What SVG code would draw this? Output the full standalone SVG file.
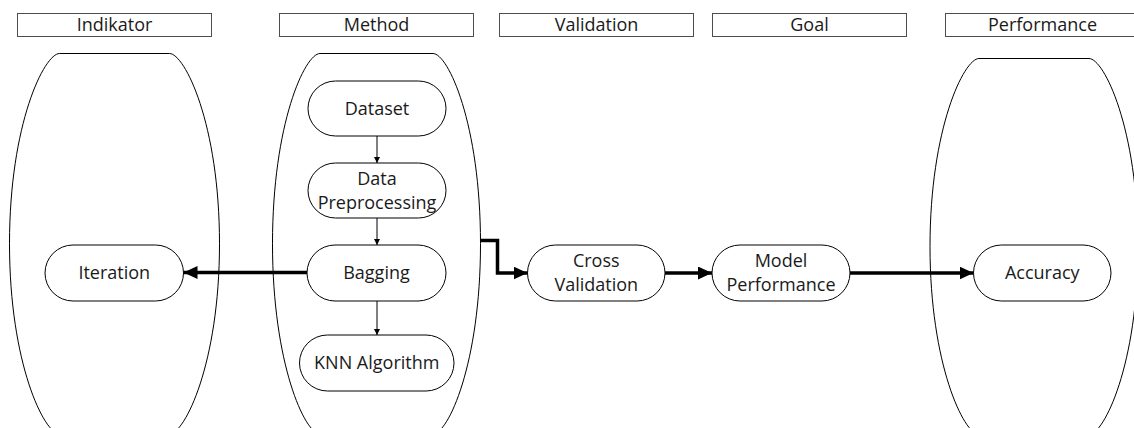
<svg xmlns="http://www.w3.org/2000/svg" width="1134" height="428" viewBox="0 0 1134 428">
<style>
.hdr{fill:#fff;stroke:#4d4d4d;stroke-width:1}
.lane{fill:#fff;stroke:#000;stroke-width:1}
.pill{fill:#fff;stroke:#000;stroke-width:1}
text{font-family:"Open Sans","Noto Sans","DejaVu Sans",sans-serif;font-size:18px;fill:#1a1a1a;text-anchor:middle}
.thin{fill:none;stroke:#000;stroke-width:1}
.thick{fill:none;stroke:#000;stroke-width:3.5}
</style>
<defs>
<marker id="sm" markerUnits="userSpaceOnUse" markerWidth="8" markerHeight="8" refX="6" refY="3" orient="auto">
<path d="M0,0 L6,3 L0,6 Z" fill="#000"/>
</marker>
<marker id="big" markerUnits="userSpaceOnUse" markerWidth="16" markerHeight="14" refX="14" refY="6.5" orient="auto">
<path d="M0,0 L14,6.5 L0,13 Z" fill="#000"/>
</marker>
</defs>
<rect width="1134" height="428" fill="#fff"/>

<g id="header-indikator"><rect class="hdr" x="17.5" y="13.5" width="194" height="23"/><text x="114.5" y="31">Indikator</text></g>
<g id="header-method"><rect class="hdr" x="279.5" y="13.5" width="194" height="23"/><text x="376.5" y="31">Method</text></g>
<g id="header-validation"><rect class="hdr" x="499.5" y="13.5" width="194" height="23"/><text x="596.5" y="31">Validation</text></g>
<g id="header-goal"><rect class="hdr" x="712.5" y="13.5" width="194" height="23"/><text x="809.5" y="31">Goal</text></g>
<g id="header-performance"><rect class="hdr" x="945.5" y="13.5" width="194" height="23"/><text x="1042.5" y="31">Performance</text></g>

<g id="lane-indikator"><path class="lane" d="M169.5,53.5 C184.5,53.5 219.5,123.5 219.5,243.75 C219.5,364 184.5,434 169.5,434 H59.5 C44.5,434 9.5,364 9.5,243.75 C9.5,123.5 44.5,53.5 59.5,53.5 Z"/></g>
<g id="lane-method"><path class="lane" d="M433,53.5 C448,53.5 480.5,123.5 480.5,243.75 C480.5,364 448,434 433,434 H320 C305,434 272.5,364 272.5,243.75 C272.5,123.5 305,53.5 320,53.5 Z"/></g>
<g id="lane-performance"><path class="lane" d="M1089,58.5 C1104,58.5 1138,128.5 1138,246.5 C1138,364.5 1104,434.5 1089,434.5 H979 C964,434.5 930,364.5 930,246.5 C930,128.5 964,58.5 979,58.5 Z"/></g>

<g id="connectors">
<line class="thin" x1="377" y1="136" x2="377" y2="163" marker-end="url(#sm)"/>
<line class="thin" x1="377" y1="218" x2="377" y2="245" marker-end="url(#sm)"/>
<line class="thin" x1="377" y1="301" x2="377" y2="335" marker-end="url(#sm)"/>
<line class="thick" x1="307" y1="272.5" x2="183.5" y2="272.5" marker-end="url(#big)"/>
<polyline class="thick" points="480.5,240.5 497.5,240.5 497.5,273 527.5,273" marker-end="url(#big)"/>
<line class="thick" x1="665" y1="273" x2="712" y2="273" marker-end="url(#big)"/>
<line class="thick" x1="850" y1="273" x2="973.5" y2="273" marker-end="url(#big)"/>
</g>

<g id="node-dataset"><rect class="pill" x="308" y="81" width="138" height="55" rx="27.5"/><text x="377" y="114.5">Dataset</text></g>
<g id="node-preprocessing"><rect class="pill" x="308" y="163" width="138" height="55" rx="27.5"/><text x="377" y="185">Data</text><text x="377" y="208.5">Preprocessing</text></g>
<g id="node-bagging"><rect class="pill" x="307" y="245" width="139" height="56" rx="28"/><text x="376.5" y="279">Bagging</text></g>
<g id="node-knn"><rect class="pill" x="299.5" y="335" width="154.5" height="56" rx="28"/><text x="376.75" y="369">KNN Algorithm</text></g>
<g id="node-iteration"><rect class="pill" x="45" y="245" width="138.5" height="56" rx="28"/><text x="114.25" y="279">Iteration</text></g>
<g id="node-crossvalidation"><rect class="pill" x="527.5" y="245" width="137.5" height="56" rx="28"/><text x="596.25" y="267">Cross</text><text x="596.25" y="291">Validation</text></g>
<g id="node-modelperformance"><rect class="pill" x="712" y="245" width="138" height="56" rx="28"/><text x="781" y="267">Model</text><text x="781" y="291">Performance</text></g>
<g id="node-accuracy"><rect class="pill" x="973.5" y="245" width="137.5" height="56" rx="28"/><text x="1042.25" y="279">Accuracy</text></g>
</svg>
